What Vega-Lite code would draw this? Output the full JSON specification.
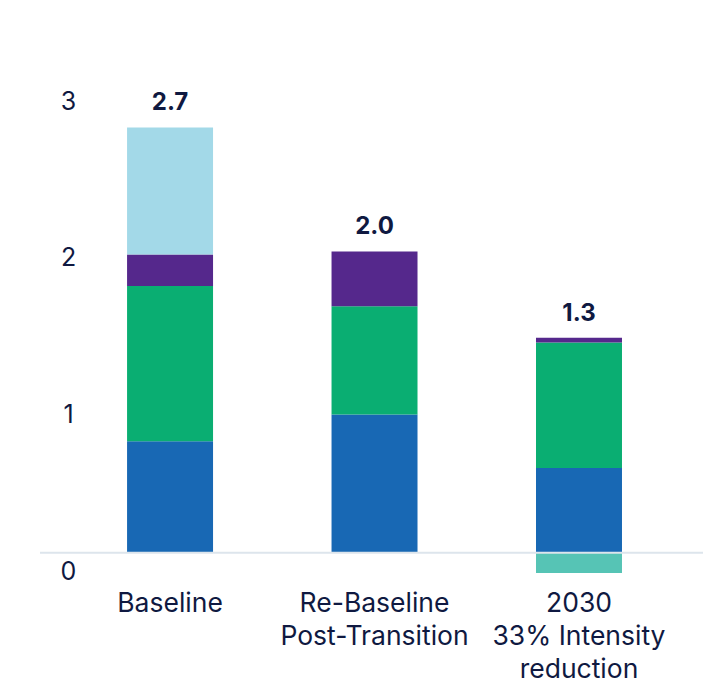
{
  "$schema": "https://vega.github.io/schema/vega-lite/v6.json",
  "width": 663,
  "height": 502,
  "autosize": {"type": "none"},
  "padding": {"left": 40, "top": 82, "right": 0, "bottom": 102},
  "background": "white",
  "config": {"view": {"stroke": null}, "font": "Inter"},
  "datasets": {
    "segments": [
      {"category": "Baseline", "segment": "s1", "order": 1, "value": 0.71},
      {"category": "Baseline", "segment": "s2", "order": 2, "value": 0.99},
      {"category": "Baseline", "segment": "s3", "order": 3, "value": 0.20},
      {"category": "Baseline", "segment": "s4", "order": 4, "value": 0.81},
      {"category": "Re-Baseline|Post-Transition", "segment": "s1", "order": 1, "value": 0.88},
      {"category": "Re-Baseline|Post-Transition", "segment": "s2", "order": 2, "value": 0.69},
      {"category": "Re-Baseline|Post-Transition", "segment": "s3", "order": 3, "value": 0.35},
      {"category": "2030|33% Intensity|reduction", "segment": "s1", "order": 1, "value": 0.54},
      {"category": "2030|33% Intensity|reduction", "segment": "s2", "order": 2, "value": 0.80},
      {"category": "2030|33% Intensity|reduction", "segment": "s3", "order": 3, "value": 0.03},
      {"category": "2030|33% Intensity|reduction", "segment": "s5", "order": 5, "value": -0.13}
    ],
    "totals": [
      {"category": "Baseline", "top": 2.71, "label": "2.7"},
      {"category": "Re-Baseline|Post-Transition", "top": 1.92, "label": "2.0"},
      {"category": "2030|33% Intensity|reduction", "top": 1.37, "label": "1.3"}
    ]
  },
  "layer": [
    {
      "data": {"name": "segments"},
      "mark": {"type": "bar"},
      "encoding": {
        "x": {
          "field": "category", "type": "nominal", "sort": null,
          "scale": {"paddingInner": 0.5795, "paddingOuter": 0.411, "align": 0.518},
          "axis": {
            "title": null, "domain": false, "ticks": false, "labelAngle": 0,
            "labelExpr": "split(datum.label, '|')",
            "labelFontSize": 26.5, "labelColor": "#0F1941", "labelLineHeight": 33,
            "labelPadding": 6, "labelBaseline": "top", "labelLimit": 400
          }
        },
        "y": {
          "field": "value", "type": "quantitative", "stack": "zero",
          "scale": {"domain": [-0.2, 3.0], "nice": false},
          "axis": {
            "title": null, "domain": false, "ticks": false, "tickSize": 0, "grid": false,
            "values": [0, 1, 2, 3], "format": "d",
            "labelFontSize": 25, "labelColor": "#0F1941",
            "labelAlign": "center", "labelPadding": -28,
            "labelBaseline": "middle", "labelOffset": 19
          }
        },
        "color": {
          "field": "segment", "type": "nominal", "legend": null,
          "scale": {
            "domain": ["s1", "s2", "s3", "s4", "s5"],
            "range": ["#1868B4", "#0AAE72", "#55288C", "#A3D9E8", "#56C4B5"]
          }
        },
        "order": {"field": "order", "type": "quantitative"}
      }
    },
    {
      "data": {"values": [{"zero": 0}]},
      "mark": {"type": "rule", "color": "#DDE5EC", "strokeWidth": 2},
      "encoding": {"y": {"field": "zero", "type": "quantitative"}}
    },
    {
      "data": {"name": "totals"},
      "mark": {"type": "text", "fontSize": 24, "fontWeight": "bold", "color": "#0F1941", "baseline": "alphabetic", "dy": -17},
      "encoding": {
        "x": {"field": "category", "type": "nominal", "sort": null},
        "y": {"field": "top", "type": "quantitative"},
        "text": {"field": "label"}
      }
    }
  ]
}
